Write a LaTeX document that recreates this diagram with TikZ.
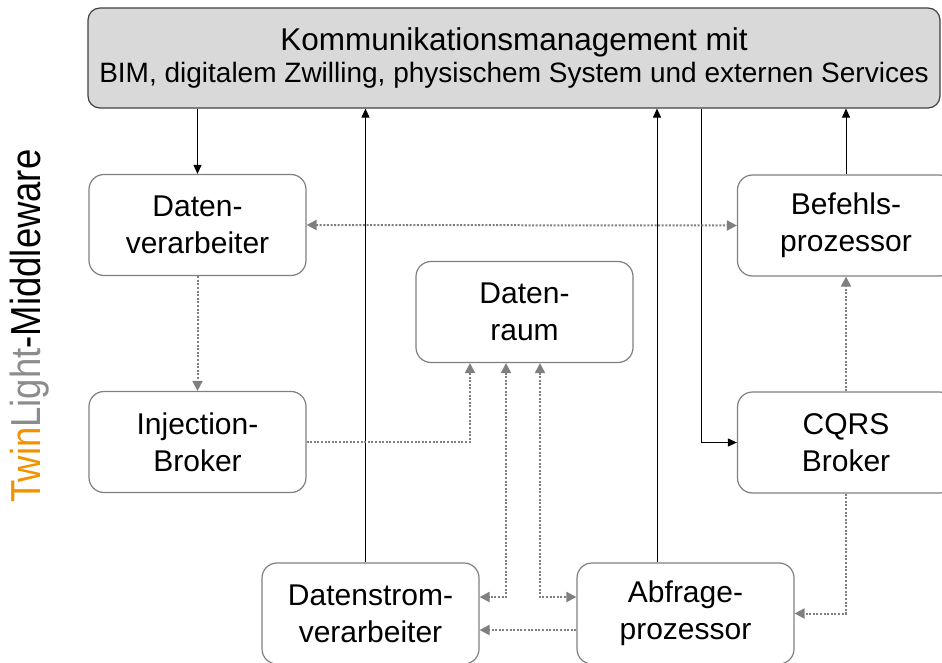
\documentclass[tikz,border=0pt]{standalone}
\usepackage{fontspec}
\setmainfont{Liberation Sans}
\usetikzlibrary{arrows.meta}
\usetikzlibrary{calc}
\usetikzlibrary{positioning}
\definecolor{tlorange}{HTML}{F39200}
\definecolor{tlgray}{HTML}{8C8C8C}
\definecolor{boxgray}{HTML}{7F7F7F}
\tikzset{basic box/.style={draw=boxgray,
                           line width=1.2pt,
                           rounded corners=15pt,
                           align=center}}
\tikzset{box/.style={basic box,minimum width=217pt,minimum height=101pt,
                     font=\fontsize{30}{37}\selectfont}}
\tikzset{edge/.style={draw,
                      line width=1pt,
                      -{Triangle[length=9pt,width=8pt]}}}
\tikzset{dotted edge/.style={draw=boxgray,
                             line width=2pt,
                             dash pattern=on 2pt off 1.6pt,
                             -{Triangle[length=10pt,width=10pt]}}}
\tikzset{both tips/.style={{Triangle[length=10pt,width=10pt]}-{Triangle[length=10pt,width=10pt]}}}

\begin{document}
\begin{tikzpicture}[x=1pt,y=-1pt]
  \useasboundingbox (0,0) rectangle (942,663);

  % boxes
  \node [basic box,draw=black!75,fill=black!15,rounded corners=12pt,
         minimum width=852pt,minimum height=100pt] (KM) at (514,58)
        {\fontsize{31.5}{33}\selectfont Kommunikationsmanagement mit\\[4pt]
         \fontsize{28}{33}\selectfont BIM, digitalem Zwilling, physischem System und externen Services};

  \foreach \n/\x/\y/\t in
  {
  DV/197.5/225/Daten-\\verarbeiter,
  IB/197.5/442/Injection-\\Broker,
  DR/524.5/312/Daten-\\raum,
  BP/846/225.5/Befehls-\\prozessor,
  CQ/846/442.5/CQRS\\Broker,
  DS/370.5/613.5/Datenstrom-\\verarbeiter,
  AP/685.5/613.5/Abfrage-\\prozessor
  }
  {
  \node [box] (\n) at (\x,\y) {\t};
  }

  \node [rotate=90,font=\fontsize{36.5}{40}\selectfont] (TL) at (30,326)
        {\scalebox{1}[1.15]{\textcolor{tlorange}{Twin}\textcolor{tlgray}{Light}-Middleware}};

  % solid edges
  \path [edge] (KM.south -| DV.north) -- (DV.north);
  \path [edge] ($(DS.north)+(-5,0)$) coordinate (ds) -- (ds |- KM.south);
  \path [edge] ($(AP.north)+(-28.5,0)$) coordinate (ap) -- (ap |- KM.south);
  \path [edge] ($(KM.south)+(187,0)$) |- (CQ.west);
  \path [edge] (BP.north) -- (BP.north |- KM.south);

  % dotted edges
  \path [dotted edge,both tips] (DV.east) -- (BP.west);
  \path [dotted edge] (DV.south) -- (IB.north);
  \path [dotted edge] (IB.east) -| ($(DR.south)+(-54.5,0)$);
  \path [dotted edge,both tips] ($(DR.south)+(-18.5,0)$) |- ($(DS.east)+(0,-16.5)$);
  \path [dotted edge,both tips] ($(DR.south)+(15.5,0)$) |- ($(AP.west)+(0,-16.5)$);
  \path [dotted edge] ($(AP.west)+(0,16.5)$) -- ($(DS.east)+(0,16.5)$);
  \path [dotted edge] (CQ.north) -- (BP.south);
  \path [dotted edge] (CQ.south) |- (AP.east);

\end{tikzpicture}
\end{document}
